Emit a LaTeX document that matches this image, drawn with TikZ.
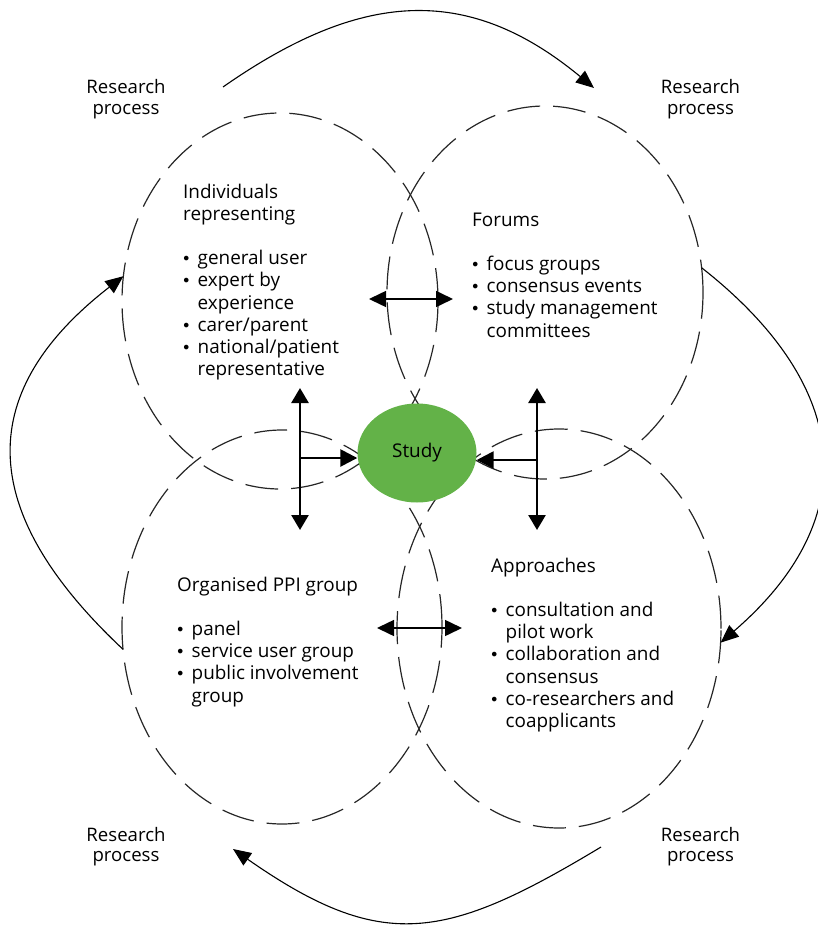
\documentclass[tikz,border=0pt]{standalone}
\usepackage{fontspec}
\setmainfont{Open Sans}
\newfontfamily\bulfont{DejaVu Sans}
\usetikzlibrary{arrows.meta,shapes.geometric}
\definecolor{studygreen}{RGB}{99,178,72}
\newcommand{\pbul}{\makebox[14.5pt][l]{\hspace*{-1.5pt}{\bulfont\fontsize{16}{22.2}\selectfont •}}}
\newcommand{\pind}{\hspace*{14.5pt}}
\begin{document}
\begin{tikzpicture}[x=1pt,y=-1pt,
  ring/.style={ellipse, draw=black!85, line width=1.2pt, dash pattern=on 33pt off 13pt, inner sep=0pt, outer sep=0pt},
  listtxt/.style={anchor=base west, align=left, inner sep=0pt, font=\fontsize{18.9}{22.2}\selectfont},
  rptxt/.style={anchor=base, align=center, inner sep=0pt, font=\fontsize{18.6}{20.8}\selectfont},
  rparrow/.style={line width=1.1pt, -{Triangle[length=18pt,width=15pt]}},
  thickdbl/.style={line width=2.6pt, {Triangle[length=15pt,width=17pt]}-{Triangle[length=15pt,width=17pt]}},
  thickarr/.style={line width=2.6pt, -{Triangle[length=17pt,width=17pt]}},
  thindbl/.style={line width=1.5pt, {Triangle[length=17pt,width=16pt]}-{Triangle[length=17pt,width=16pt]}},
]
\useasboundingbox (0,0) rectangle (818,925);

% dashed circles
\node[ring, minimum width=316pt, minimum height=376pt] (TL) at (280,301) {};
\node[ring, minimum width=316pt, minimum height=373pt] (TR) at (545,292.5) {};
\node[ring, minimum width=320pt, minimum height=394pt] (BL) at (282,627) {};
\node[ring, minimum width=324pt, minimum height=399pt] (BR) at (559,628.5) {};

% study
\node[ellipse, fill=studygreen, minimum width=119pt, minimum height=99pt, inner sep=0pt,
      font=\fontsize{18.9}{22}\selectfont] (study) at (417,453) {Study};

% research process arrows
\coordinate (topstart) at (223,87);
\coordinate (topend) at (594,88);
\coordinate (botstart) at (601,847);
\coordinate (botend) at (233,849);
\draw[rparrow] (topstart) .. controls (359,-8) and (466,-18) .. (topend);
\draw[rparrow] (TR.9) .. controls (852,386) and (865,518) .. (BR.-5);
\draw[rparrow] (botstart) .. controls (445,941) and (382,953) .. (botend);
\draw[rparrow] (BL.188) .. controls (-19,516) and (-31,396) .. (TL.171);

% T arrows
\coordinate (lt) at (300,388);
\coordinate (lb) at (300,530);
\coordinate (lm) at (300,458);
\coordinate (rt) at (537,388);
\coordinate (rb) at (537,530);
\coordinate (rm) at (537,460);
\draw[thickdbl] (lt) -- (lb);
\draw[thickarr] (lm) -- (lm -| study.west);
\draw[thickdbl] (rt) -- (rb);
\draw[thickarr] (rm) -- (rm -| study.east);

% overlap double arrows
\coordinate (ul) at (369,299);
\coordinate (ur) at (453,299);
\coordinate (dl) at (377,628);
\coordinate (dr) at (462,628);
\draw[thindbl] (ul) -- (ur);
\draw[thindbl] (dl) -- (dr);

% texts (anchor = baseline of last line)
\node[rptxt] (rp1) at (126,114.1) {Research\\process};
\node[rptxt] (rp2) at (700.5,114.1) {Research\\process};
\node[rptxt] (rp3) at (126,861.8) {Research\\process};
\node[rptxt] (rp4) at (700.5,861.8) {Research\\process};

\node[listtxt] (tltext) at (183,375.6) {Individuals\\representing\\[22.2pt]\pbul general user\\\pbul expert by\\\pind experience\\\pbul carer/parent\\\pbul national/patient\\\pind representative};
\node[listtxt] (trtext) at (472,337) {Forums\\[22.2pt]\pbul focus groups\\\pbul consensus events\\\pbul study management\\\pind committees};
\node[listtxt] (bltext) at (177,702) {Organised PPI group\\[22.2pt]\pbul panel\\\pbul service user group\\\pbul public involvement\\\pind group};
\node[listtxt] (brtext) at (491,727.4) {Approaches\\[22.2pt]\pbul consultation and\\\pind pilot work\\\pbul collaboration and\\\pind consensus\\\pbul co-researchers and\\\pind coapplicants};
\end{tikzpicture}
\end{document}
